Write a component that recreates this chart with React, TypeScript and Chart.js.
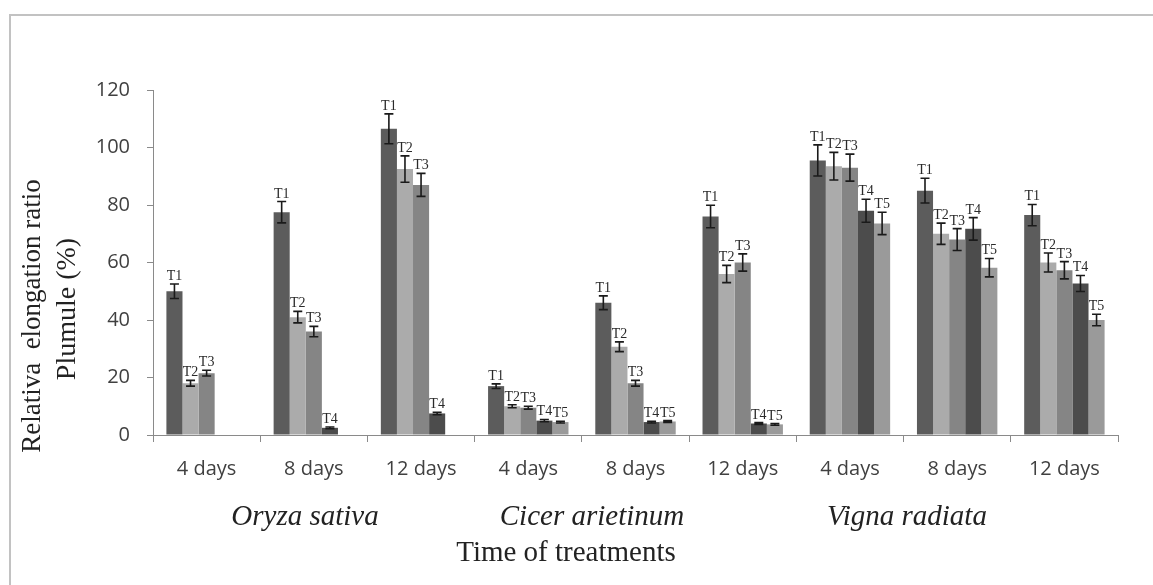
import React, { useEffect, useRef } from "react";
import { Chart, registerables } from "chart.js";

Chart.register(...registerables);

const categories = ["4 days", "8 days", "12 days", "4 days", "8 days", "12 days", "4 days", "8 days", "12 days"];
const species = ["Oryza sativa", "Cicer arietinum", "Vigna radiata"];
const seriesNames = ["T1", "T2", "T3", "T4", "T5"];

const t1 = [50, 77.5, 106.5, 17, 46, 76, 95.5, 85, 76.5];
const t2 = [18, 41, 92.5, 10, 30.7, 56, 93.5, 70, 60];
const t3 = [21.5, 36, 87, 9.5, 18, 60, 93, 68, 57.3];
const t4 = [null, 2.5, 7.5, 5, 4.5, 4, 78, 71.7, 52.7];
const t5 = [null, null, null, 4.5, 4.7, 3.7, 73.6, 58.2, 40];

const e1 = [2.5, 3.7, 5.2, 0.8, 2.4, 3.9, 5.4, 4.3, 3.7];
const e2 = [1, 2, 4.6, 0.5, 1.7, 3, 4.8, 3.7, 3.3];
const e3 = [1, 1.8, 4, 0.5, 1, 3, 4.7, 3.8, 3];
const e4 = [0, 0.3, 0.4, 0.4, 0.3, 0.3, 4, 3.9, 2.8];
const e5 = [0, 0, 0, 0.3, 0.3, 0.3, 3.9, 3.2, 2];

const yTicks = [0, 20, 40, 60, 80, 100, 120];

const seriesValues = [t1, t2, t3, t4, t5];
const seriesErrors = [e1, e2, e3, e4, e5];
const seriesColors = ["#5c5c5c", "#ababab", "#858585", "#4c4c4c", "#9a9a9a"];

const errorBarPlugin = {
  id: "errorBars",
  afterDatasetsDraw(chart: any) {
    const ctx = chart.ctx;
    const y = chart.scales.y;
    ctx.save();
    chart.data.datasets.forEach((ds: any, i: number) => {
      const meta = chart.getDatasetMeta(i);
      const errs = seriesErrors[i];
      meta.data.forEach((el: any, j: number) => {
        const v = ds.data[j];
        if (v === null || v === undefined) return;
        const e = errs[j] || 0;
        const x = el.x;
        const yt = y.getPixelForValue(v + e);
        const yb = y.getPixelForValue(v - e);
        ctx.strokeStyle = "#1a1a1a";
        ctx.lineWidth = 1.6;
        ctx.beginPath();
        ctx.moveTo(x, yt);
        ctx.lineTo(x, yb);
        ctx.moveTo(x - 4.5, yt);
        ctx.lineTo(x + 4.5, yt);
        ctx.moveTo(x - 4.5, yb);
        ctx.lineTo(x + 4.5, yb);
        ctx.stroke();
        ctx.fillStyle = "#2a2a2a";
        ctx.font = "14px 'Liberation Serif', serif";
        ctx.textAlign = "center";
        ctx.textBaseline = "alphabetic";
        ctx.fillText(seriesNames[i], x, yt - 4);
      });
    });
    ctx.restore();
  },
};

const textPlugin = {
  id: "extraText",
  afterDraw(chart: any) {
    const ctx = chart.ctx;
    ctx.save();
    // outer frame
    ctx.strokeStyle = "#c2c2c2";
    ctx.lineWidth = 2;
    ctx.beginPath();
    ctx.moveTo(10, 585);
    ctx.lineTo(10, 15);
    ctx.lineTo(1153, 15);
    ctx.stroke();

    ctx.fillStyle = "#222";
    ctx.textAlign = "center";
    ctx.textBaseline = "middle";
    ctx.font = "italic 29px 'Liberation Serif', serif";
    const speciesX = [305, 592, 907];
    species.forEach((s, k) => ctx.fillText(s, speciesX[k], 517));

    ctx.font = "29px 'Liberation Serif', serif";
    ctx.fillText("Time of treatments", 566, 553);

    ctx.save();
    ctx.translate(33, 316);
    ctx.rotate(-Math.PI / 2);
    ctx.font = "27px 'Liberation Serif', serif";
    ctx.fillText("Relativa  elongation ratio", 0, 0);
    ctx.restore();
    ctx.save();
    ctx.translate(68, 309);
    ctx.rotate(-Math.PI / 2);
    ctx.font = "28px 'Liberation Serif', serif";
    ctx.fillText("Plumule (%)", 0, 0);
    ctx.restore();
    ctx.restore();
  },
};

export default function App() {
  const ref = useRef<HTMLCanvasElement | null>(null);
  useEffect(() => {
    if (!ref.current) return;
    const chart = new Chart(ref.current, {
      type: "bar",
      data: {
        labels: categories,
        datasets: seriesNames.map((n, i) => ({
          label: n,
          data: seriesValues[i] as any,
          backgroundColor: seriesColors[i],
          borderWidth: 0,
          categoryPercentage: 0.75,
          barPercentage: 1.0,
        })),
      },
      options: {
        animation: false,
        responsive: false,
        maintainAspectRatio: false,
        layout: { padding: { top: 90, right: 35, left: 0, bottom: 0 } },
        plugins: { legend: { display: false }, tooltip: { enabled: false }, title: { display: false } },
        scales: {
          x: {
            afterFit: (s: any) => { s.height = 150; },
            grid: { display: true, drawOnChartArea: false, drawTicks: true, tickLength: 7, color: "#8a8a8a", offset: true },
            border: { display: true, color: "#8a8a8a", width: 1 },
            ticks: { color: "#404040", font: { family: "'Open Sans', sans-serif", size: 20 }, padding: 15, maxRotation: 0, autoSkip: false },
          },
          y: {
            min: 0,
            max: 120,
            afterFit: (s: any) => { s.width = 153; },
            afterBuildTicks: (s: any) => { s.ticks = yTicks.map((v) => ({ value: v })); },
            grid: { display: true, drawOnChartArea: false, drawTicks: true, tickLength: 6, color: "#8a8a8a" },
            border: { display: true, color: "#8a8a8a", width: 1 },
            ticks: { color: "#404040", font: { family: "'Open Sans', sans-serif", size: 20 }, padding: 17 },
          },
        },
      },
      plugins: [errorBarPlugin, textPlugin],
    });
    return () => chart.destroy();
  }, []);
  return (
    <div style={{ position: "fixed", left: 0, top: 0, width: 1153, height: 585, background: "#fff" }}>
      <canvas ref={ref} width={1153} height={585} style={{ width: 1153, height: 585 }} />
    </div>
  );
}
